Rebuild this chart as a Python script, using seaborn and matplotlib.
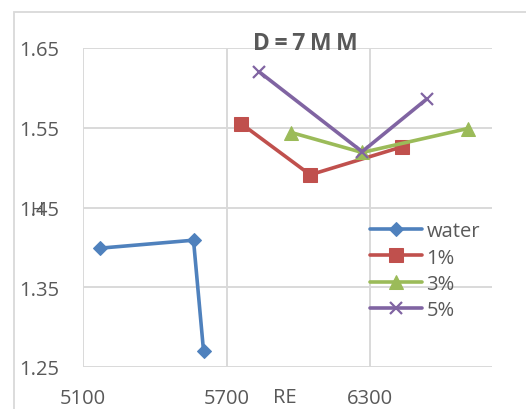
import matplotlib
matplotlib.use("Agg")
import matplotlib.pyplot as plt
from matplotlib.patches import Rectangle
import seaborn as sns

# Reynolds number vs. value for each concentration, D = 7 mm
re_water = [5171, 5562, 5604]
val_water = [1.399, 1.409, 1.270]

re_1 = [5762, 6050, 6433]
val_1 = [1.555, 1.491, 1.526]

re_3 = [5971, 6267, 6708]
val_3 = [1.544, 1.519, 1.549]

re_5 = [5837, 6267, 6537]
val_5 = [1.620, 1.520, 1.586]

x_ticks = [5100, 5700, 6300]
y_ticks = [1.25, 1.35, 1.45, 1.55, 1.65]
y_labels = ["1.25", "1.35", "1.45", "1.55", "1.65"]

sns.set_theme(style="white")
plt.rcParams["font.family"] = ["Open Sans", "DejaVu Sans"]

grey = "#595959"
grid_c = "#D9D9D9"

fig = plt.figure(figsize=(5.26, 4.10), dpi=100)
ax = fig.add_axes([83 / 526, 1 - 368 / 410, (492 - 83) / 526, (368 - 49) / 410])

# chart frame
fig.patches.append(Rectangle((14 / 526, -0.1), 1.2, 1 - 13 / 410 + 0.1,
                             transform=fig.transFigure, fill=False,
                             edgecolor=grid_c, linewidth=1.3, zorder=0))

series = [
    ("water", re_water, val_water, "#4F81BD", "D", 7.5, {}),
    ("1%", re_1, val_1, "#C0504D", "s", 9.5, {}),
    ("3%", re_3, val_3, "#9BBB59", "^", 10.5, {}),
    ("5%", re_5, val_5, "#8064A2", "x", 9, {"markeredgewidth": 1.6}),
]
for name, xs, ys, col, mk, ms, extra in series:
    sns.lineplot(x=xs, y=ys, ax=ax, color=col, marker=mk, markersize=ms,
                 markeredgecolor=col, markerfacecolor=col, linewidth=2.6,
                 label=name, sort=False, **extra)

ax.set_xlim(5100, 6810)
ax.set_ylim(1.25, 1.65)
ax.set_xticks(x_ticks)
ax.set_xticklabels([str(t) for t in x_ticks])
ax.set_yticks(y_ticks)
ax.set_yticklabels(y_labels, ha="left")
ax.tick_params(axis="both", length=0, labelsize=14.5, labelcolor=grey)
ax.tick_params(axis="y", pad=46)
ax.tick_params(axis="x", pad=15)
ax.grid(True, color=grid_c, linewidth=1.4)
for s in ax.spines.values():
    s.set_visible(False)
ax.set_xlabel("")
ax.set_ylabel("")

# axis label "RE" on the tick row
ax.text(285 / 526, 1 - 398 / 410, "RE", transform=fig.transFigure,
        fontsize=14.5, color=grey, ha="center", va="center")
# overlapping axis title glyph near the 1.45 label
ax.text(37 / 526, 1 - 210 / 410, "H", transform=fig.transFigure,
        fontsize=13, color=grey, ha="center", va="center")

fig.text(305 / 526, 1 - 44 / 410, "D\u2009=\u20097\u2009M\u2009M", fontsize=16.5,
         fontweight="bold", color=grey, ha="center", va="center")

leg = ax.legend(loc="upper left", bbox_to_anchor=(362 / 526, 1 - 214 / 410),
                bbox_transform=fig.transFigure, frameon=False, fontsize=14.5,
                handlelength=2.6, handletextpad=0.2, labelspacing=0.32,
                borderaxespad=0)
for t in leg.get_texts():
    t.set_color(grey)

fig.savefig("out.png", dpi=100)
